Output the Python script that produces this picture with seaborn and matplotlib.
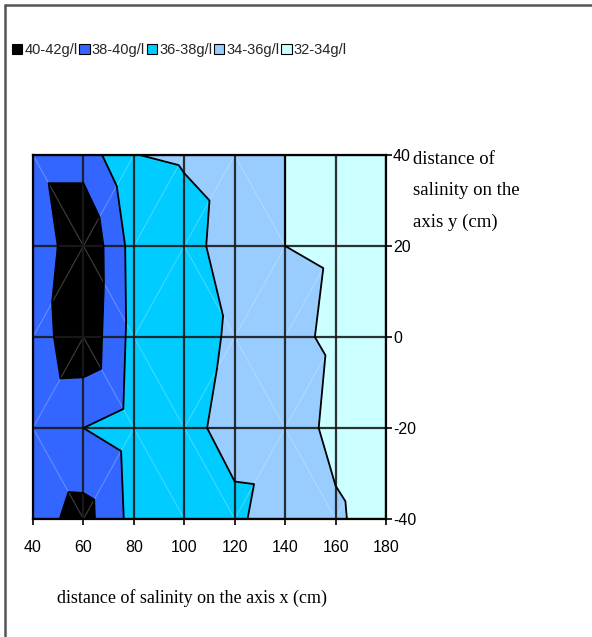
import numpy as np
import matplotlib
matplotlib.use("Agg")
import matplotlib.pyplot as plt
import matplotlib.tri as mtri
from matplotlib.patches import Patch
from matplotlib.lines import Line2D
from matplotlib import font_manager
import seaborn as sns

# ---------------- data ----------------
x_cm = [40, 60, 80, 100, 120, 140, 160, 180]
y_cm = [40, 20, 0, -20, -40]
sal_y40 = [39.17, 39.17, 36.02, 35.85, 35.40, 34.00, 33.30, 33.00]
sal_y20 = [38.22, 41.85, 37.20, 36.60, 35.22, 34.00, 33.82, 33.20]
sal_y0 = [38.87, 41.59, 37.30, 36.49, 35.82, 34.56, 33.61, 33.00]
sal_ym20 = [38.10, 38.00, 37.05, 36.33, 35.60, 35.55, 33.22, 32.14]
sal_ym40 = [39.10, 40.80, 37.30, 36.80, 36.28, 35.18, 34.45, 32.45]
levels = [32, 34, 36, 38, 40, 42]
band_labels = ["32-34g/l", "34-36g/l", "36-38g/l", "38-40g/l", "40-42g/l"]
band_colors = ["#CCFFFF", "#99CCFF", "#00CCFF", "#3366FF", "#000000"]
xlabel = "distance of salinity on the axis x (cm)"
ylabel = "distance of\nsalinity on the\naxis y (cm)"

# ---------------- style ----------------
sns.set_theme(style="white")
avail = {f.name for f in font_manager.fontManager.ttflist}
narrow = "Liberation Sans Narrow" in avail
sans_family = ["Liberation Sans Narrow", "DejaVu Sans"] if narrow else ["Liberation Sans", "DejaVu Sans"]
tick_fs = 13 if narrow else 11.5
leg_fs = 12.5 if narrow else 10.5
plt.rcParams["font.family"] = sans_family
plt.rcParams["axes.unicode_minus"] = False
serif = ["Liberation Serif", "DejaVu Serif"]

W, H = 592, 637
fig = plt.figure(figsize=(W / 100, H / 100), dpi=100, facecolor="white")
ax = fig.add_axes([33 / W, 1 - 519 / H, (386 - 33) / W, (519 - 155) / H])

# ---------------- triangulation (Excel-like) ----------------
X, Y = np.meshgrid(x_cm, y_cm)
Z = np.array([sal_y40, sal_y20, sal_y0, sal_ym20, sal_ym40])
ny, nx = Z.shape
zf = Z.ravel()
tris, diags = [], []
for j in range(ny - 1):
    for i in range(nx - 1):
        tl, tr = j * nx + i, j * nx + i + 1
        bl, br = (j + 1) * nx + i, (j + 1) * nx + i + 1
        if zf[tl] + zf[br] >= zf[tr] + zf[bl]:
            tris += [[tl, tr, br], [tl, br, bl]]
            diags.append((tl, br))
        else:
            tris += [[tl, tr, bl], [tr, br, bl]]
            diags.append((tr, bl))
tri = mtri.Triangulation(X.ravel(), Y.ravel(), tris)

ax.tricontourf(tri, zf, levels=levels, colors=band_colors, zorder=1)
xf, yf = X.ravel(), Y.ravel()
for a, b in diags:
    ax.plot([xf[a], xf[b]], [yf[a], yf[b]], color="white", alpha=0.25, lw=0.8, zorder=1.5)
ax.tricontour(tri, zf, levels=levels[1:-1], colors="black", linewidths=1.3, zorder=3)

ax.set_xlim(min(x_cm), max(x_cm))
ax.set_ylim(min(y_cm), max(y_cm))
ax.set_xticks(x_cm, labels=[str(v) for v in x_cm])
ax.set_yticks(y_cm, labels=[str(v) for v in y_cm])
ax.set_axisbelow(False)
ax.grid(True, color="#1a1a1a", lw=1.6, alpha=0.9)
for s in ax.spines.values():
    s.set_visible(True)
    s.set_color("black")
    s.set_linewidth(1.6)
    s.set_zorder(4)
ax.yaxis.tick_right()
ax.tick_params(axis="y", right=True, left=False, length=4, width=1.2, pad=1,
               labelsize=tick_fs, colors="black", direction="out")
ax.tick_params(axis="x", bottom=True, length=4, width=1.2, pad=11,
               labelsize=tick_fs, colors="black", direction="out")

# axis titles
fig.text(57 / W, 1 - 598 / H, xlabel, family=serif, fontsize=13, ha="left", va="center", color="black")
fig.text(413 / W, 1 - 151 / H, ylabel, family=serif, fontsize=13.5, ha="left", va="top",
         linespacing=2.1, color="black")

# legend
handles = [Patch(facecolor=c, edgecolor="black", lw=0.8) for c in band_colors[::-1]]
fig.legend(handles, band_labels[::-1], loc="upper left", bbox_to_anchor=(12 / W, 1 - 43 / H),
           ncol=5, frameon=False, handlelength=0.7, handleheight=0.7, handletextpad=0.15,
           columnspacing=0.12, borderaxespad=0, borderpad=0, fontsize=leg_fs)

# outer frame lines
fig.add_artist(Line2D([5 / W, 1], [1 - 5 / H, 1 - 5 / H], transform=fig.transFigure, color="#555555", lw=1.8))
fig.add_artist(Line2D([5 / W, 5 / W], [0, 1 - 5 / H], transform=fig.transFigure, color="#555555", lw=1.8))

fig.savefig("out.png", dpi=100, facecolor="white")
